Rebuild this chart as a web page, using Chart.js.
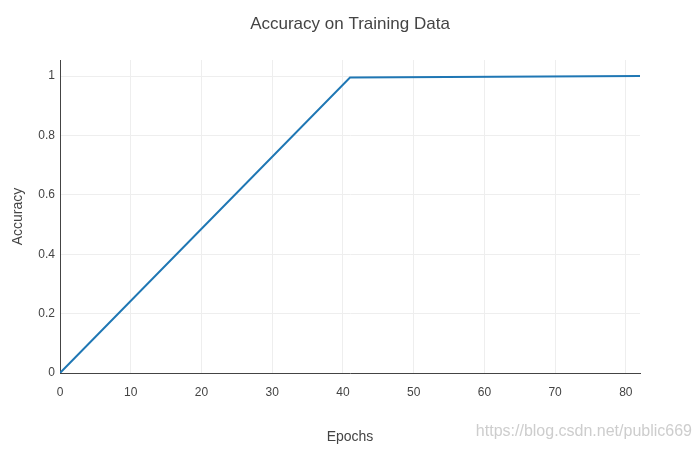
<!DOCTYPE html>
<html><head><meta charset="utf-8">
<script src="https://cdn.jsdelivr.net/npm/chart.js@4"></script>
<style>body{margin:0;background:#fff}#w{width:700px;height:450px}</style>
</head><body><div id="w"><canvas id="c"></canvas></div>
<script>
const epochs = [0, 41, 82];
const accuracy = [0, 0.995, 1.0];
const xTicks = [0, 10, 20, 30, 40, 50, 60, 70, 80];
const yTicks = [0, 0.2, 0.4, 0.6, 0.8, 1];
const chartTitle = 'Accuracy on Training Data';
const watermark = 'https://blog.csdn.net/public669';
const FF = '"Liberation Sans", Arial, sans-serif';

const deco = {id:'deco', afterDraw(ch){const c=ch.ctx;c.save();
  c.font='17px '+FF;c.fillStyle='#444';c.textAlign='center';c.textBaseline='middle';c.fillText(chartTitle,350,24);
  c.font='16px '+FF;c.fillStyle='rgba(200,200,200,0.9)';c.textAlign='right';c.fillText(watermark,692,432);c.restore();}};

new Chart(document.getElementById('c'), {
  type:'line',
  data:{datasets:[{data:epochs.map((x,i)=>({x,y:accuracy[i]})),borderColor:'#1f77b4',borderWidth:2,pointRadius:0,fill:false,tension:0}]},
  options:{
    responsive:true, maintainAspectRatio:false, animation:false,
    layout:{padding:{left:0,right:60,top:60,bottom:0}},
    plugins:{legend:{display:false},tooltip:{enabled:false},title:{display:false}},
    scales:{
      x:{type:'linear',min:0,max:82,
        afterBuildTicks(s){s.ticks=xTicks.map(v=>({value:v}));},
        ticks:{color:'#444',font:{family:FF,size:12},padding:12,maxRotation:0},
        grid:{color:'#eee',tickColor:'#444',tickLength:0},
        border:{color:'#444',width:1},
        title:{display:true,text:'Epochs',color:'#444',font:{family:FF,size:14},padding:{top:0,bottom:4}},
        afterFit(s){s.height=77;}},
      y:{type:'linear',min:0,max:1.054,
        afterBuildTicks(s){s.ticks=yTicks.map(v=>({value:v}));},
        ticks:{color:'#444',font:{family:FF,size:12},padding:5,callback:v=>String(v)},
        grid:{color:'#eee',tickColor:'#444',tickLength:0},
        border:{color:'#444',width:1},
        title:{display:true,text:'Accuracy',color:'#444',font:{family:FF,size:14},padding:{top:10,bottom:8}},
        afterFit(s){s.width=60;}}
    }
  },
  plugins:[deco]
});
</script></body></html>
